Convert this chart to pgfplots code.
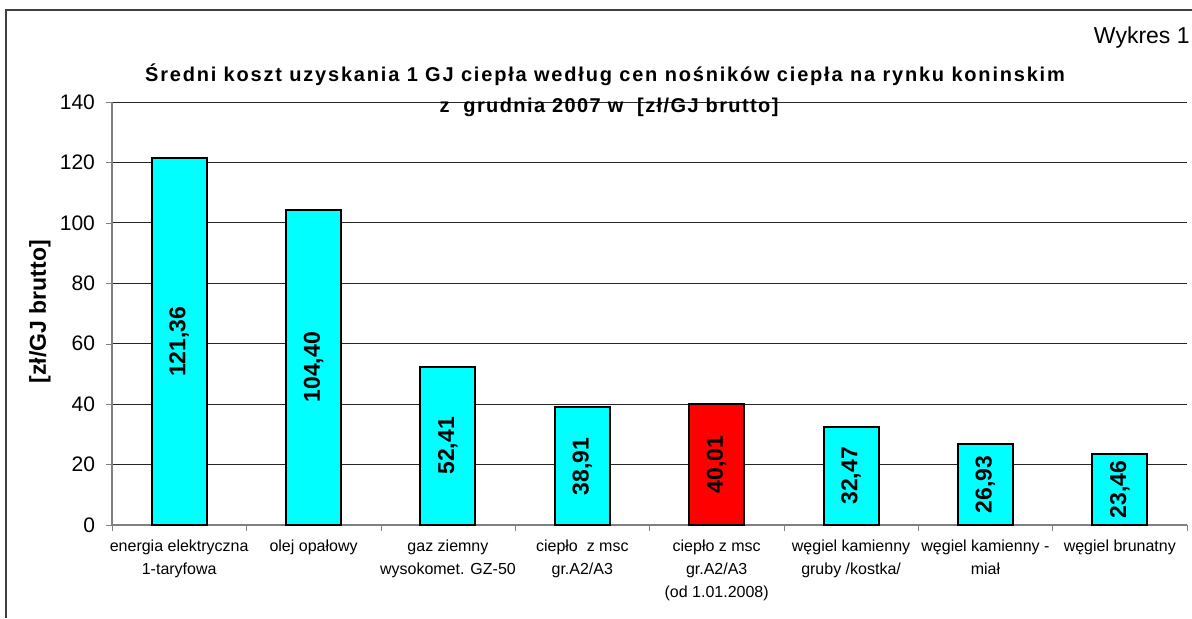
\documentclass[border=0pt]{standalone}
\usepackage{pgfplots}
\pgfplotsset{compat=1.18}
\usepackage{fontspec}
\setmainfont{Liberation Sans}
\definecolor{barcyan}{RGB}{0,255,255}
\definecolor{barred}{RGB}{255,0,0}
\begin{document}
\begin{tikzpicture}
\useasboundingbox (0,0) rectangle (596pt,309pt);
% frame of the chart area
\draw[black!75, line width=1pt] (3pt,0pt) -- (3pt,304pt) -- (597pt,304pt);
\begin{axis}[
    at={(56pt,46.5pt)}, anchor=south west,
    scale only axis,
    width=537.5pt, height=211.5pt,
    xmin=-0.5, xmax=7.5,
    ymin=0, ymax=140,
    ytick={0,20,...,140},
    xtick={0,...,7},
    xticklabels={
        {energia elektryczna\\1-taryfowa},
        {olej opałowy},
        {gaz ziemny\\wysokomet. GZ-50},
        {ciepło\ \ z msc\\gr.A2/A3},
        {ciepło z msc\\gr.A2/A3\\(od 1.01.2008)},
        {węgiel kamienny\\gruby /kostka/},
        {węgiel kamienny -\\miał},
        {węgiel brunatny}},
    xticklabel style={align=center, anchor=north, yshift=-1pt,
        font=\fontsize{8}{11.5}\selectfont},
    yticklabel style={font=\fontsize{10.5}{12}\selectfont, xshift=-2pt},
    /pgf/number format/assume math mode=true,
    xtick style={draw=none},
    minor xtick={-0.5,0.5,...,7.5},
    minor x tick style={draw=black!50},
    ytick style={draw=black!50},
    tick align=outside,
    major tick length=3pt, minor tick length=3pt,
    axis x line*=bottom, axis y line*=left,
    axis line style={black!50, line width=0.6pt},
    ymajorgrids,
    grid style={black!85, line width=0.5pt},
    ylabel={\bfseries [zł/GJ brutto]},
    y label style={at={(axis description cs:-0.067,0.504)}, anchor=center,
        font=\fontsize{11.5}{12}\selectfont},
    ybar, bar width=27.5pt, bar shift=0pt,
    point meta=explicit symbolic,
    visualization depends on=y \as \rawy,
    nodes near coords,
    nodes near coords style={shift={(axis direction cs:0,-\rawy/2)},
        anchor=center, rotate=90,
        font=\bfseries\fontsize{11.5}{12}\selectfont},
]
\addplot[fill=barcyan, draw=black, line width=1pt] coordinates {
    (0,121.36) [121,36]
    (1,104.40) [104,40]
    (2,52.41)  [52,41]
    (3,38.91)  [38,91]
    (5,32.47)  [32,47]
    (6,26.93)  [26,93]
    (7,23.46)  [23,46]
};
\addplot[fill=barred, draw=black, line width=1pt] coordinates {
    (4,40.01) [40,01]
};
\end{axis}
\node[font=\bfseries\fontsize{10}{11}\selectfont\addfontfeature{LetterSpace=9}] at (302.5pt,271.5pt)
    {Średni koszt uzyskania 1 GJ ciepła według cen nośników ciepła na rynku koninskim};
\node[font=\bfseries\fontsize{10}{11}\selectfont\addfontfeature{LetterSpace=7}] at (304.5pt,255.5pt)
    {z\ \ grudnia 2007 w\ \ [zł/GJ brutto]};
\node[anchor=east, inner sep=0pt, font=\fontsize{11.5}{12}\selectfont] at (595pt,290pt)
    {Wykres 1};
\end{tikzpicture}
\end{document}
